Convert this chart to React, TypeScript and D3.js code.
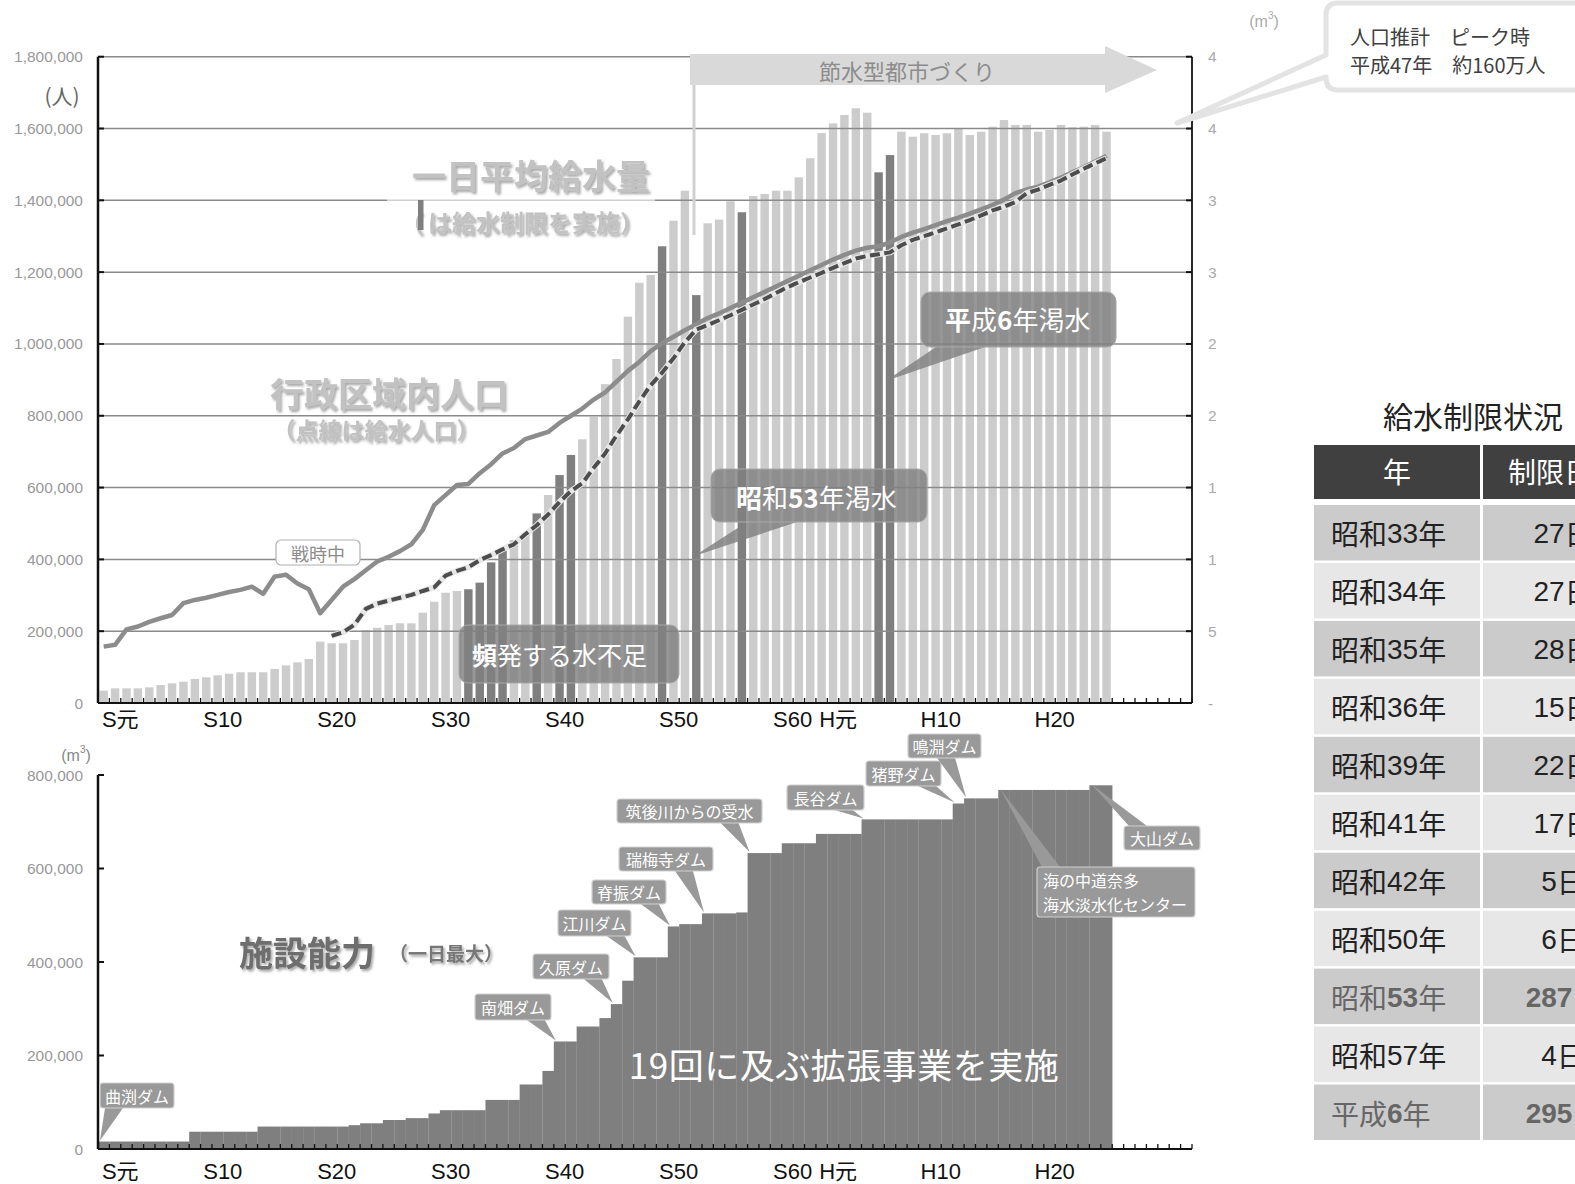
import React from "react";
import * as d3 from "d3";

// ---------- data ----------
const firstYear = 1926;
const axisYears = d3.range(1926, 2022); // category slots on the x axis (S元 … )

// 一日平均給水量 (m³) 1926–2014
const dailySupply = [
  8600, 10200, 10200, 10200, 10900, 12500, 13700, 14800, 16700, 17900,
  19300, 20400, 21400, 21400, 21400, 23700, 26200, 28300, 30600, 42700,
  41600, 41600, 43900, 50800, 52400, 54300, 55500, 55500, 62900, 70500,
  76800, 78000, 79200, 83800, 97900, 106000, 113500, 118000, 132000, 144800,
  158700, 172700, 183600, 199300, 222000, 239500, 269000, 292600, 298000, 318000,
  335800, 356700, 284000, 334000, 336600, 349300, 341700, 353000, 354400, 356700,
  356700, 366000, 379300, 396800, 403600, 409400, 414100, 411000, 369500, 381500,
  397800, 394300, 396700, 395500, 396700, 400100, 395500, 397800, 401300, 405900,
  402500, 402500, 397800, 399000, 402500, 400900, 401300, 402500, 397800,
];

// 給水制限を実施した年
const restrictionYears = [1958, 1959, 1960, 1961, 1964, 1966, 1967, 1975, 1978, 1982, 1994, 1995];

// 行政区域内人口 (千人) 1926–2014
const populationAdmin = [
  157, 162, 205, 213, 226, 236, 245, 278, 287, 293,
  301, 309, 315, 324, 304, 352, 357, 333, 317, 250,
  287, 324, 345, 370, 394, 407, 423, 442, 482, 551,
  579, 607, 610, 640, 665, 695, 710, 735, 745, 755,
  780, 800, 820, 845, 865, 895, 925, 950, 980, 1002,
  1020, 1038, 1055, 1072, 1085, 1100, 1115, 1130, 1145, 1160,
  1175, 1190, 1205, 1220, 1235, 1248, 1260, 1268, 1272, 1283,
  1298, 1310, 1320, 1331, 1342, 1352, 1363, 1375, 1387, 1402,
  1420, 1430, 1438, 1450, 1463, 1478, 1492, 1508, 1524,
];

// 給水人口 (千人) 1946–2014
const servedFirstYear = 1946;
const populationServed = [
  187, 197, 218, 262, 277, 285, 293, 301, 312, 322,
  355, 368, 378, 398, 412, 428, 442, 470, 495, 525,
  560, 590, 612, 655, 695, 745, 790, 840, 885, 920,
  960, 1005, 1040, 1053, 1066, 1080, 1095, 1110, 1125, 1142,
  1158, 1172, 1185, 1198, 1212, 1225, 1238, 1245, 1250, 1255,
  1275, 1290, 1300, 1311, 1322, 1333, 1345, 1358, 1372, 1382,
  1395, 1420, 1430, 1443, 1455, 1472, 1488, 1503, 1517,
];

// 施設能力 (千m³/日) 1926–2014
const capacity = [
  16, 16, 16, 16, 16, 16, 16, 16, 37, 37,
  37, 37, 37, 37, 48, 48, 48, 48, 48, 48,
  48, 48, 51, 55, 55, 62, 62, 66, 66, 76,
  83, 83, 83, 83, 105, 105, 105, 138, 138, 167,
  230, 230, 262, 262, 280, 310, 360, 410, 410, 410,
  476, 481, 481, 504, 504, 504, 506, 633, 633, 633,
  654, 654, 654, 674, 674, 674, 674, 705, 705, 705,
  705, 705, 705, 705, 705, 739, 750, 750, 750, 768,
  768, 768, 768, 768, 768, 768, 768, 778, 778,
];

const xLabelTexts = ["S元", "S10", "S20", "S30", "S40", "S50", "S60", "H元", "H10", "H20"];
const xLabelYears = [1926, 1935, 1945, 1955, 1965, 1975, 1985, 1989, 1998, 2008];

const popTicks = [0, 200000, 400000, 600000, 800000, 1000000, 1200000, 1400000, 1600000, 1800000];
const rightTickLabels = ["-", "5", "1", "1", "2", "2", "3", "3", "4", "4"];
const capTicks = [0, 200000, 400000, 600000, 800000];

const damNames = [
  "曲渕ダム", "南畑ダム", "久原ダム", "江川ダム", "脊振ダム", "瑞梅寺ダム",
  "筑後川からの受水", "長谷ダム", "猪野ダム", "鳴淵ダム", "海の中道奈多|海水淡水化センター", "大山ダム",
];
const damYears = [1926, 1966, 1971, 1973, 1976, 1979, 1983, 1993, 2001, 2002, 2005, 2013];

const tableYears = ["昭和33年", "昭和34年", "昭和35年", "昭和36年", "昭和39年", "昭和41年", "昭和42年", "昭和50年", "昭和53年", "昭和57年", "平成6年"];
const tableDays = ["27日", "27日", "28日", "15日", "22日", "17日", "5日", "6日", "287日", "4日", "295日"];
const tableHighlight = ["昭和53年", "平成6年"];

// ---------- layout (annotation boxes) ----------
const damBoxes: [number, number, number, number][] = [
  [100, 1083, 74, 25], [475, 994, 76, 26], [533, 954, 76, 25], [558, 910, 73, 26],
  [592, 880, 74, 24], [619, 847, 94, 24], [617, 799, 145, 24], [787, 785, 77, 25],
  [866, 761, 75, 25], [908, 734, 73, 24], [1037, 867, 158, 50], [1124, 826, 76, 24],
];

const JP = "'Noto Sans CJK JP', 'Noto Sans', sans-serif";
const NUM = "'Liberation Sans', Arial, 'Noto Sans CJK JP', sans-serif";

function splitDigits(s: string) {
  return s.split(/(\d+)/).filter((p) => p.length > 0);
}

export default function App() {
  const x = d3.scaleBand<number>().domain(axisYears).range([98, 1192]).padding(0);
  const bw = x.bandwidth();
  const cx = (yr: number) => (x(yr) as number) + bw / 2;
  const yPop = d3.scaleLinear().domain([0, 1800000]).range([703, 56.7]);
  const yVol = d3.scaleLinear().domain([0, 450000]).range([703, 56.7]);
  const yCap = d3.scaleLinear().domain([0, 800000]).range([1149, 775]);

  const adminLine = d3
    .line<number>()
    .x((_, i) => cx(firstYear + i))
    .y((d) => yPop(d * 1000))(populationAdmin) as string;
  const servedLine = d3
    .line<number>()
    .x((_, i) => cx(servedFirstYear + i))
    .y((d) => yPop(d * 1000))(populationServed) as string;

  const barW = bw * 0.74;
  const tickXs = axisYears.map((yr) => x(yr) as number).concat([1192]);

  const labelX = (yr: number) => cx(yr) + bw * 1.45;

  return (
    <svg
      width={1575}
      height={1184}
      style={{ position: "absolute", left: 0, top: 0, background: "#fff", display: "block" }}
      fontFamily={JP}
    >
      <defs>
        <filter id="tshadow" x="-10%" y="-30%" width="130%" height="170%">
          <feDropShadow dx="1.8" dy="2.2" stdDeviation="1.1" floodColor="#555" floodOpacity="0.5" />
        </filter>
      </defs>

      {/* ================= TOP CHART ================= */}
      {dailySupply.map((v, i) => {
        const yr = firstYear + i;
        const dark = restrictionYears.includes(yr);
        return (
          <rect
            key={"b" + i}
            x={cx(yr) - barW / 2}
            y={yVol(v)}
            width={barW}
            height={yVol(0) - yVol(v)}
            fill={dark ? "#7f7f7f" : "#cccccc"}
          />
        );
      })}

      {popTicks.slice(1).map((t) => (
        <line key={"g" + t} x1={98} x2={1192} y1={yPop(t)} y2={yPop(t)} stroke="#8a8a8a" strokeWidth={1.5} />
      ))}

      <rect x={387} y={150} width={268} height={88} fill="#fff" fillOpacity={0.6} />

      <path d={adminLine} fill="none" stroke="#8c8c8c" strokeWidth={4.5} strokeLinejoin="round" />
      <path d={servedLine} fill="none" stroke="#e6e6e6" strokeWidth={6} strokeLinejoin="round" />
      <path d={servedLine} fill="none" stroke="#4d4d4d" strokeWidth={4} strokeDasharray="10,4.5" strokeLinejoin="round" />

      <line x1={98} x2={98} y1={56.7} y2={703} stroke="#111" strokeWidth={2.5} />
      <line x1={1192} x2={1192} y1={56.7} y2={703} stroke="#111" strokeWidth={1.8} />
      <line x1={98} x2={1192} y1={703} y2={703} stroke="#111" strokeWidth={2} />
      {popTicks.map((t) => (
        <g key={"lt" + t}>
          <line x1={98} x2={104} y1={yPop(t)} y2={yPop(t)} stroke="#111" strokeWidth={2} />
          <line x1={1186} x2={1192} y1={yPop(t)} y2={yPop(t)} stroke="#111" strokeWidth={2} />
          <text x={83} y={yPop(t)} textAnchor="end" dominantBaseline="central" fontFamily={NUM} fontSize={15.5} fill="#999">
            {d3.format(",")(t)}
          </text>
        </g>
      ))}
      {rightTickLabels.map((s, i) => (
        <text key={"rt" + i} x={1208} y={yPop(popTicks[i])} dominantBaseline="central" fontFamily={NUM} fontSize={15.5} fill="#aaa">
          {s}
        </text>
      ))}
      {tickXs.map((tx, i) => (
        <line key={"tx" + i} x1={tx} x2={tx} y1={698} y2={703} stroke="#111" strokeWidth={1.3} />
      ))}
      {xLabelTexts.map((s, i) => (
        <text key={"xl" + i} x={labelX(xLabelYears[i])} y={719} textAnchor="middle" dominantBaseline="central" fontFamily={NUM} fontSize={22} fill="#111">
          {s}
        </text>
      ))}
      <text x={62} y={95} textAnchor="middle" dominantBaseline="central" fontSize={21} fill="#666">(人)</text>
      <text x={1264} y={21} textAnchor="middle" dominantBaseline="central" fontFamily={NUM} fontSize={16} fill="#aaa">
        (m<tspan fontSize={10} dy={-6}>3</tspan><tspan dy={6}>)</tspan>
      </text>

      <line x1={694} x2={694} y1={85} y2={235} stroke="#d0d0d0" strokeWidth={3} />
      <polygon points="690,54 1105,54 1105,46 1157,70 1105,93 1105,85 690,85" fill="#d9d9d9" />
      <text x={907} y={70} textAnchor="middle" dominantBaseline="central" fontSize={22} fill="#8c8c8c">節水型都市づくり</text>

      <g filter="url(#tshadow)">
        <text x={531} y={174} textAnchor="middle" dominantBaseline="central" fontSize={34} fontWeight="bold" fill="#c2c2c2">一日平均給水量</text>
        <text x={400} y={221} dominantBaseline="central" fontSize={24} fontWeight="bold" fill="#c2c2c2">（</text>
        <text x={428} y={221} dominantBaseline="central" fontSize={24} fontWeight="bold" fill="#c2c2c2">は給水制限を実施）</text>
        <text x={389} y={392} textAnchor="middle" dominantBaseline="central" fontSize={34} fontWeight="bold" fill="#c2c2c2">行政区域内人口</text>
        <text x={376} y={429} textAnchor="middle" dominantBaseline="central" fontSize={23} fontWeight="bold" fill="#c2c2c2">（点線は給水人口）</text>
      </g>
      <rect x={418} y={200} width={5.5} height={30} fill="#7f7f7f" />

      <rect x={276} y={540} width={84} height={25} rx={5} fill="#fff" stroke="#b0b0b0" strokeWidth={1.2} />
      <text x={318} y={552.5} textAnchor="middle" dominantBaseline="central" fontSize={18} fill="#8c8c8c">戦時中</text>

      <rect x={459} y={625} width={220} height={58} rx={9} fill="#808080" fillOpacity={0.82} stroke="#a8a8a8" />
      <text x={472} y={654} dominantBaseline="central" fontSize={25} fill="#fff">
        <tspan fontWeight="bold">頻</tspan>発する水不足
      </text>

      <polygon points={`747,522 797,522 ${cx(1978) - 2},556`} fill="#808080" fillOpacity={0.82} />
      <rect x={711} y={469} width={216} height={53} rx={9} fill="#808080" fillOpacity={0.82} stroke="#a8a8a8" />
      <text x={736} y={496} dominantBaseline="central" fontSize={26} fill="#fff">
        <tspan fontWeight="bold">昭</tspan>和<tspan fontWeight="bold">53</tspan>年渇水
      </text>

      <polygon points={`936,347 985,347 ${cx(1994) + 7},381`} fill="#808080" fillOpacity={0.82} />
      <rect x={921} y={292} width={195} height={55} rx={9} fill="#808080" fillOpacity={0.82} stroke="#a8a8a8" />
      <text x={945} y={318} dominantBaseline="central" fontSize={26} fill="#fff">
        <tspan fontWeight="bold">平</tspan>成<tspan fontWeight="bold">6</tspan>年渇水
      </text>

      <path
        d="M1338,3 H1600 V90 H1338 Q1326,90 1326,78 V77 L1177,123 L1326,55 V15 Q1326,3 1338,3 Z"
        fill="#fff"
        stroke="#e3e3e3"
        strokeWidth={5}
        strokeLinejoin="round"
      />
      <text x={1350} y={36} dominantBaseline="central" fontSize={20} fill="#404040">人口推計　ピーク時</text>
      <text x={1350} y={64} dominantBaseline="central" fontSize={20} fill="#404040">平成47年　約160万人</text>

      {/* ================= BOTTOM CHART ================= */}
      {capacity.map((v, i) => {
        const yr = firstYear + i;
        return (
          <rect key={"c" + i} x={x(yr) as number} y={yCap(v * 1000)} width={bw + 0.2} height={yCap(0) - yCap(v * 1000)} fill="#7f7f7f" />
        );
      })}
      <line x1={98} x2={98} y1={775} y2={1149} stroke="#111" strokeWidth={2.5} />
      <line x1={98} x2={1192} y1={1149} y2={1149} stroke="#111" strokeWidth={2} />
      {capTicks.map((t) => (
        <g key={"ct" + t}>
          <line x1={98} x2={104} y1={yCap(t)} y2={yCap(t)} stroke="#111" strokeWidth={2} />
          <text x={83} y={yCap(t)} textAnchor="end" dominantBaseline="central" fontFamily={NUM} fontSize={15.5} fill="#999">
            {d3.format(",")(t)}
          </text>
        </g>
      ))}
      {tickXs.map((tx, i) => (
        <line key={"bx" + i} x1={tx} x2={tx} y1={1144} y2={1149} stroke="#111" strokeWidth={1.3} />
      ))}
      {xLabelTexts.map((s, i) => (
        <text key={"bl" + i} x={labelX(xLabelYears[i])} y={1171} textAnchor="middle" dominantBaseline="central" fontFamily={NUM} fontSize={22} fill="#111">
          {s}
        </text>
      ))}
      <text x={76} y={755} textAnchor="middle" dominantBaseline="central" fontFamily={NUM} fontSize={16} fill="#888">
        (m<tspan fontSize={10} dy={-6}>3</tspan><tspan dy={6}>)</tspan>
      </text>

      <g filter="url(#tshadow)">
        <text x={307} y={951} textAnchor="middle" dominantBaseline="central" fontSize={34} fontWeight="bold" fill="#6e6e6e">施設能力</text>
        <text x={446} y={952} textAnchor="middle" dominantBaseline="central" fontSize={19} fontWeight="bold" fill="#777">（一日最大）</text>
      </g>
      <text x={844} y={1063} textAnchor="middle" dominantBaseline="central" fontSize={35} letterSpacing={0.5} fill="#fff">
        19回に及ぶ拡張事業を実施
      </text>

      {damNames.map((name, i) => {
        const [bx, by, bwd, bh] = damBoxes[i];
        const idx = damYears[i] - firstYear;
        const tipX = (x(damYears[i]) as number) + 2;
        const tipY = yCap(capacity[idx] * 1000) - 1;
        const below = tipY > by + bh;
        const baseC = Math.max(bx + 14, Math.min(bx + bwd - 14, tipX - 20));
        const baseY = below ? by + bh : by;
        const lines = name.split("|");
        return (
          <g key={"dam" + i}>
            <polygon points={`${baseC - 9},${baseY} ${baseC + 9},${baseY} ${tipX},${tipY}`} fill="#999" />
            <rect x={bx} y={by} width={bwd} height={bh} rx={3} fill="#999" stroke="#d0d0d0" strokeWidth={1.2} />
            {lines.length === 1 ? (
              <text x={bx + bwd / 2} y={by + bh / 2} textAnchor="middle" dominantBaseline="central" fontSize={16} fill="#fff">
                {lines[0]}
              </text>
            ) : (
              lines.map((ln, j) => (
                <text key={j} x={bx + 6} y={by + 13 + j * 24} dominantBaseline="central" fontSize={16} fill="#fff">
                  {ln}
                </text>
              ))
            )}
          </g>
        );
      })}

      {/* ================= TABLE ================= */}
      <text x={1383} y={415} dominantBaseline="central" fontSize={30} fill="#222">給水制限状況</text>
      <rect x={1314} y={445} width={166} height={54} fill="#404040" />
      <rect x={1483} y={445} width={160} height={54} fill="#404040" />
      <text x={1397} y={471} textAnchor="middle" dominantBaseline="central" fontSize={28} fill="#fff">年</text>
      <text x={1564} y={471} textAnchor="middle" dominantBaseline="central" fontSize={28} fill="#fff">制限日数</text>
      {tableYears.map((yrTxt, i) => {
        const top = 505 + i * 57.95;
        const fill = i % 2 === 0 ? "#cbcbcb" : "#e7e7e7";
        const hl = tableHighlight.includes(yrTxt);
        const color = hl ? "#666" : "#222";
        return (
          <g key={"row" + i}>
            <rect x={1314} y={top} width={166} height={55.5} fill={fill} />
            <rect x={1483} y={top} width={160} height={55.5} fill={fill} />
            <text x={1331} y={top + 28} dominantBaseline="central" fontFamily={NUM} fontSize={28} fill={color}>
              {splitDigits(yrTxt).map((p, k) => (
                <tspan key={k} fontWeight={hl && /\d/.test(p) ? "bold" : "normal"} fontFamily={/\d/.test(p) ? NUM : JP}>
                  {p}
                </tspan>
              ))}
            </text>
            <text x={1563} y={top + 28} textAnchor="middle" dominantBaseline="central" fontFamily={NUM} fontSize={28} fill={color} fontWeight={hl ? "bold" : "normal"}>
              {splitDigits(tableDays[i]).map((p, k) => (
                <tspan key={k} fontFamily={/\d/.test(p) ? NUM : JP}>{p}</tspan>
              ))}
            </text>
          </g>
        );
      })}
    </svg>
  );
}
